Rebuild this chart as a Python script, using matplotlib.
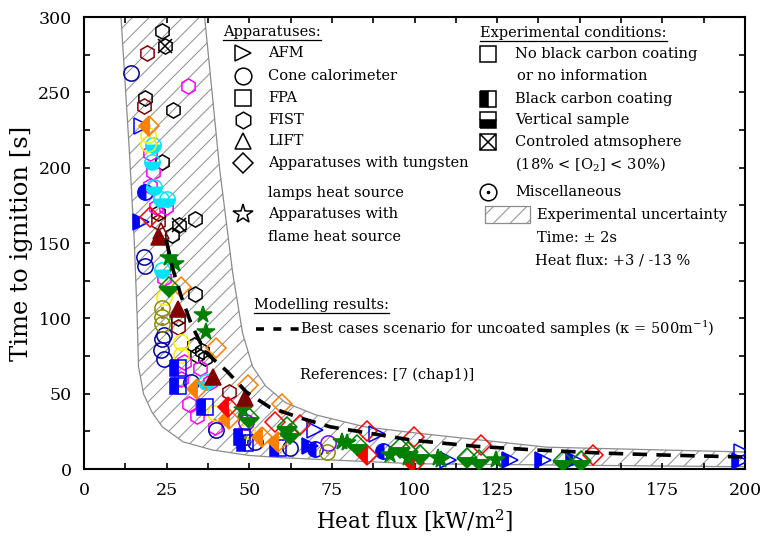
import numpy as np
import matplotlib.pyplot as plt

plt.rcParams['font.family'] = 'DejaVu Serif'
plt.rcParams['mathtext.fontset'] = 'dejavuserif'
plt.rcParams['hatch.linewidth'] = 0.7

# modelling result
model_q = [24.9, 26.7, 29.5, 32.5, 36.5, 43.2, 49.2, 56.2, 65.3, 74.5, 99.7, 119, 137, 156.5, 175, 199]
model_t = [152, 134, 114, 96, 78, 65, 51, 41, 34, 28, 19, 15, 12.6, 10.6, 9.3, 8]

# experimental uncertainty band
band_up_q = [36.5, 41, 45, 48, 51, 55, 61, 70, 85, 100, 140, 200]
band_up_t = [300, 200, 130, 90, 68, 55, 44, 36, 28, 24, 14.5, 11.3]
band_lo_q = [11.2, 13.7, 15.2, 16.1, 16.5, 18, 20.5, 23.7, 30, 38.9, 50, 60, 100, 150, 200]
band_lo_t = [300, 212, 152, 100, 68, 50, 38, 28, 18, 12.6, 9, 7.5, 3.5, 2.5, 1.5]

# experimental data
fist_black_q = [23.7, 18.5, 27.0, 23.7, 22.5, 33.7, 26.7, 33.7, 28.3, 33.4, 34.3, 35.6, 36.5]
fist_black_t = [291, 246, 238, 204, 170, 166, 155, 116, 100, 82, 76, 78, 74]
fist_crossed_q = [24.6, 28.6]
fist_crossed_t = [281, 162]
fist_darkred_q = [19.1, 18.2, 22.5, 28.3, 44.0]
fist_darkred_t = [276, 241, 164, 94, 51]
fist_magenta_q = [31.6, 20.0, 21.0, 20.0, 21.9, 24.9, 24.3, 30.4, 35.0, 29.5, 38.0, 31.9, 34.3, 39.5]
fist_magenta_t = [254, 210, 197, 188, 174, 174, 127, 71, 67, 60, 58, 43, 35, 28]

cone_navy_q = [14.3, 18.2, 18.5, 24.3, 23.7, 23.4, 24.3, 32.5, 40.0, 51.7, 62.3]
cone_navy_t = [263, 141, 135, 89, 86, 79, 73, 58, 26, 18, 14]
cone_blue_half_q = [18.5, 70.0, 90.6]
cone_blue_half_t = [184, 13, 12]
cone_cyan_q = [21.0, 20.7, 21.3, 23.4, 25.2, 23.7, 37.0]
cone_cyan_t = [215, 204, 187, 179, 179, 132, 58]
cone_yellow_q = [19.5, 19.5, 24.3, 29.5, 29.5, 39.5, 49.2]
cone_yellow_t = [222, 216, 114, 84, 76, 37, 25]
cone_olive_q = [23.7, 23.7, 23.7, 48.6, 73.5]
cone_olive_t = [107, 101, 96, 21, 11]
cone_purple_q = [49.0, 73.9]
cone_purple_t = [31, 17]

afm_blue_q = [17.6, 70.0, 88.8, 110.0, 199.0]
afm_blue_t = [228, 26, 23, 6, 11]
afm_blue_half_q = [17.3, 68.4, 129.0, 139.0, 148.3, 198.5]
afm_blue_half_t = [164, 15, 6, 6, 6, 5]
fpa_blue_half_q = [28.3, 28.3, 36.5, 47.7, 48.6, 58.7]
fpa_blue_half_t = [67, 55, 41, 21, 17, 14]

lamp_orange_half_q = [19.8, 34.3, 44.0, 54.0, 58.7]
lamp_orange_half_t = [228, 53, 33, 21, 18]
lamp_orange_q = [29.5, 39.8, 49.5, 60.0]
lamp_orange_t = [121, 80, 56, 43]
lamp_red_q = [20.0, 57.8, 65.3, 85.7, 99.7, 120.0, 154.0]
lamp_red_t = [167, 31, 29, 25, 21, 16, 9]
lamp_red_half_q = [43.5, 85.7, 99.7]
lamp_red_half_t = [41, 9, 4]
lamp_green_q = [25.8, 50.0, 61.4, 62.3, 82.7, 95.7, 98.0, 101.8, 116.0, 119.5, 145.0, 150.5]
lamp_green_t = [121, 34, 28, 23, 16, 14, 11, 9, 7, 6, 5, 5]

flame_green_q = [25.8, 27.4, 36.0, 37.0, 48.0, 78.0, 79.6, 92.7, 97.9, 107.0, 108.0, 124.6]
flame_green_t = [140, 136, 102, 91, 39, 18, 17, 9, 7, 7, 6, 6]

lift_darkred_q = [22.8, 28.3, 38.9, 48.6]
lift_darkred_t = [154, 106, 61, 47]
lift_darkred_open_q = [23.4]
lift_darkred_open_t = [158]

# (q, t, marker, colour, fill) ; fill: 'none', 'full', 'left', 'bottom'
series = [
    (fist_black_q, fist_black_t, 'h', 'black', 'none'),
    (fist_crossed_q, fist_crossed_t, 'h', 'black', 'none'),
    (fist_darkred_q, fist_darkred_t, 'h', '#800000', 'none'),
    (fist_magenta_q, fist_magenta_t, 'h', '#ff00ff', 'none'),
    (cone_navy_q, cone_navy_t, 'o', '#00009c', 'none'),
    (cone_blue_half_q, cone_blue_half_t, 'o', '#0000ff', 'left'),
    (cone_cyan_q, cone_cyan_t, 'o', '#00e5ff', 'bottom'),
    (cone_yellow_q, cone_yellow_t, 'o', '#ffee00', 'none'),
    (cone_olive_q, cone_olive_t, 'o', '#8c8c00', 'none'),
    (cone_purple_q, cone_purple_t, 'o', '#8000ff', 'none'),
    (afm_blue_q, afm_blue_t, '>', '#0000ff', 'none'),
    (afm_blue_half_q, afm_blue_half_t, '>', '#0000ff', 'left'),
    (fpa_blue_half_q, fpa_blue_half_t, 's', '#0000ff', 'left'),
    (lamp_orange_half_q, lamp_orange_half_t, 'D', '#ff8000', 'left'),
    (lamp_orange_q, lamp_orange_t, 'D', '#ff8000', 'none'),
    (lamp_red_q, lamp_red_t, 'D', '#ff0000', 'none'),
    (lamp_red_half_q, lamp_red_half_t, 'D', '#ff0000', 'left'),
    (lamp_green_q, lamp_green_t, 'D', '#008000', 'bottom'),
    (flame_green_q, flame_green_t, '*', '#008000', 'full'),
    (lift_darkred_q, lift_darkred_t, '^', '#800000', 'full'),
    (lift_darkred_open_q, lift_darkred_open_t, '^', '#800000', 'none'),
]

fig = plt.figure(figsize=(7.6, 5.37), dpi=100)
ax = fig.add_axes([0.1105, 0.1266, 0.8698, 0.8417])

# uncertainty band
ax.fill(np.r_[band_up_q, band_lo_q[::-1]], np.r_[band_up_t, band_lo_t[::-1]],
        facecolor='white', edgecolor='#8c8c8c', hatch='//', lw=0.9, zorder=1)

for q, t, m, c, f in series:
    ms = 13 if m == '*' else (10 if m == 'D' else 11)
    if f == 'none':
        ax.plot(q, t, ls='none', marker=m, ms=ms, mec=c, mfc='none', mew=1.1, zorder=3)
    elif f == 'full':
        ax.plot(q, t, ls='none', marker=m, ms=ms, mec=c, mfc=c, mew=1.1, zorder=3)
    else:
        ax.plot(q, t, ls='none', marker=m, ms=ms, mec=c, mfc=c, fillstyle=f,
                markerfacecoloralt='none', mew=1.1, zorder=3)

ax.plot(fist_crossed_q, fist_crossed_t, ls='none', marker='x', ms=10, mec='black', mew=1.1, zorder=3)
ax.plot(cone_olive_q, cone_olive_t, ls='none', marker='.', ms=3, mec='#8c8c00', mfc='#8c8c00', zorder=3)

ax.plot(model_q, model_t, color='black', lw=2.6, dashes=(4, 2.6), zorder=5)

ax.set_xlim(0, 200)
ax.set_ylim(0, 300)
ax.set_xticks(np.arange(0, 201, 25))
ax.set_yticks(np.arange(0, 301, 50))
ax.set_xticks(np.arange(0, 201, 12.5), minor=True)
ax.set_yticks(np.arange(0, 301, 25), minor=True)
ax.tick_params(which='both', direction='in', top=True, right=True, length=4.5, width=1.2)
ax.tick_params(which='major', labelsize=12.5, pad=9)
for s in ax.spines.values():
    s.set_linewidth(1.5)
ax.set_xlabel('Heat flux [kW/m$^2$]', fontsize=15.5, labelpad=6)
ax.set_ylabel('Time to ignition [s]', fontsize=17.5, labelpad=4)


def axp(px, py):
    return (px - 84) / 661, (469 - py) / 452


fs = 10.5
tr = ax.transAxes
headers = []


def txt(px, py, s, **kw):
    x, y = axp(px, py)
    return ax.text(x, y, s, transform=tr, fontsize=fs, va='center', ha='left', **kw)


def mark(px, py, m, **kw):
    x, y = axp(px, py)
    ax.plot([x], [y], transform=tr, ls='none', marker=m, color='black', mew=1.1, clip_on=False, **kw)


# left legend: apparatuses
headers.append(txt(223, 32, 'Apparatuses:'))
left_rows = [(53, '>', 'AFM'), (76, 'o', 'Cone calorimeter'), (98, 's', 'FPA'),
             (120, 'h', 'FIST'), (141, '^', 'LIFT'), (163, 'D', 'Apparatuses with tungsten')]
for py, m, s in left_rows:
    mark(243, py, m, ms=12 if m != 'D' else 10, mfc='none')
    txt(268, py, s)
txt(268, 193, 'lamps heat source')
mark(243, 214, '*', ms=15, mfc='none')
txt(268, 214, 'Apparatuses with')
txt(268, 237, 'flame heat source')

# right legend: experimental conditions
headers.append(txt(480, 33, 'Experimental conditions:'))
mark(488, 54, 's', ms=11, mfc='none')
txt(515, 54, 'No black carbon coating')
txt(517, 76, 'or no information')
mark(488, 99, 's', ms=11, mfc='black', fillstyle='left', markerfacecoloralt='white')
txt(515, 99, 'Black carbon coating')
mark(488, 120, 's', ms=11, mfc='black', fillstyle='bottom', markerfacecoloralt='white')
txt(515, 120, 'Vertical sample')
mark(488, 142, 's', ms=11, mfc='none')
mark(488, 142, 'x', ms=11)
txt(515, 142, 'Controled atmsophere')
txt(515, 164, '(18% < [O$_2$] < 30%)')
mark(488, 192, 'o', ms=12, mfc='none')
mark(488, 192, '.', ms=3)
txt(515, 192, 'Miscellaneous')
bx0, by0 = axp(485, 223)
bx1, by1 = axp(530, 206)
ax.add_patch(plt.Rectangle((bx0, by0), bx1 - bx0, by1 - by0, transform=tr, facecolor='white',
                           edgecolor='#8c8c8c', hatch='//', lw=0.9, clip_on=False))
txt(537, 215, 'Experimental uncertainty')
txt(537, 238, 'Time: \u00b1 2s')
txt(535, 260, 'Heat flux: +3 / -13 %')

# modelling legend
headers.append(txt(254, 305, 'Modelling results:'))
lx0, ly = axp(256, 329)
lx1, _ = axp(300, 329)
ax.plot([lx0, lx1], [ly, ly], transform=tr, color='black', lw=2.6, dashes=(2.2, 2.6))
txt(300, 329, 'Best cases scenario for uncoated samples (\u03ba = 500m$^{-1}$)')
txt(300, 375, 'References: [7 (chap1)]')

# underline headers
fig.canvas.draw()
inv = tr.inverted()
for h in headers:
    bb = h.get_window_extent()
    (x0, y0), (x1, _) = inv.transform([(bb.x0, bb.y0 - 1), (bb.x1, bb.y0)])
    ax.plot([x0, x1], [y0, y0], transform=tr, color='black', lw=0.9)

fig.savefig('out.png', dpi=100)
